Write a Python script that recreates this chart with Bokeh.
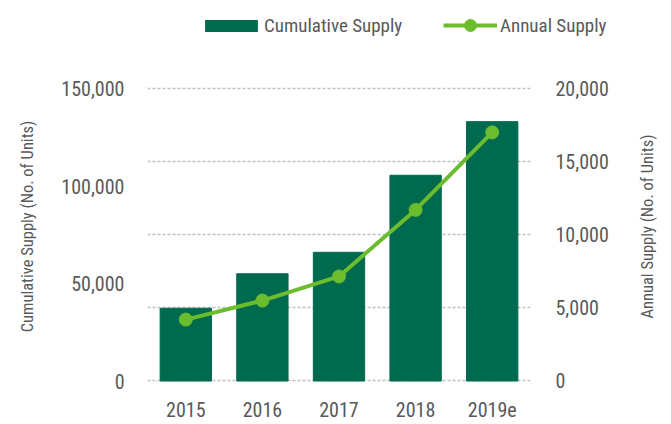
import math
from bokeh.plotting import figure
from bokeh.layouts import row
from bokeh.embed import file_html
from bokeh.resources import INLINE
from bokeh.models import (Range1d, LinearAxis, FixedTicker, NumeralTickFormatter,
                          Legend, LegendItem, FactorRange, Title, ColumnDataSource)

# ---- data ----
years = ["2015", "2016", "2017", "2018", "2019e"]
cumulative_supply = [37300, 55000, 66000, 105500, 133000]
annual_supply = [4200, 5500, 7150, 11700, 17000]
left_ticks = [0, 50000, 100000, 150000]
right_ticks = [0, 5000, 10000, 15000, 20000]

FONT = "Roboto Condensed"
TXT = "#595959"
BAR = "#006A4E"
LINE = "#6CBD2D"
W = 667
MAIN_W = 610

LINE_STYLE = dict(line_color=LINE, line_width=4)
PT_STYLE = dict(size=13, fill_color=LINE, line_color=LINE)

src = ColumnDataSource(data=dict(year=years, cumulative=cumulative_supply,
                                 annual=annual_supply))

# ---------- legend strip (separate root, on top) ----------
# the series are placed far outside this strip's view; only legend swatches show
top = figure(width=W, height=44, x_range=FactorRange(*years),
             y_range=Range1d(-2e6, -1e6), min_border=0,
             x_axis_location=None, y_axis_location=None,
             output_backend="svg", toolbar_location=None)
top.grid.visible = False
top.outline_line_color = None
tb = top.vbar(x="year", top="cumulative", source=src, width=0.001,
              fill_color=BAR, line_color=None)
tl = top.line(x="year", y="annual", source=src, **LINE_STYLE)
ts = top.scatter(x="year", y="annual", source=src, **PT_STYLE)

leg1 = Legend(items=[LegendItem(label="Cumulative Supply", renderers=[tb])],
              location=(198, 7), glyph_width=66, glyph_height=15,
              label_standoff=0, padding=0, margin=0, spacing=0,
              border_line_color=None, background_fill_alpha=0,
              label_text_font=FONT, label_text_font_size="19px",
              label_text_color=TXT)
leg2 = Legend(items=[LegendItem(label="Annual Supply", renderers=[tl, ts])],
              location=(443, 4), glyph_width=54, glyph_height=30,
              label_standoff=3, padding=0, margin=0, spacing=0,
              border_line_color=None, background_fill_alpha=0,
              label_text_font=FONT, label_text_font_size="19px",
              label_text_color=TXT)
top.add_layout(leg1, "center")
top.add_layout(leg2, "center")

# ---------- main chart ----------
p = figure(x_range=FactorRange(*years, range_padding=0),
           y_range=Range1d(-769.2, 159230.8),
           frame_width=383, frame_height=312,
           min_border_left=147, min_border_right=MAIN_W - 147 - 383,
           min_border_top=26, min_border_bottom=40,
           output_backend="svg", toolbar_location=None)
p.extra_y_ranges = {"annual": Range1d(-102.6, 21230.8)}
p.outline_line_color = None

p.vbar(x="year", top="cumulative", source=src, width=0.67,
       fill_color=BAR, line_color=BAR)
p.line(x="year", y="annual", source=src, y_range_name="annual", **LINE_STYLE)
p.scatter(x="year", y="annual", source=src, y_range_name="annual", **PT_STYLE)

for ax in [p.xaxis[0], p.yaxis[0]]:
    ax.axis_line_color = None
    ax.major_tick_line_color = None
    ax.minor_tick_line_color = None
    ax.major_tick_out = 0
    ax.major_label_text_font = FONT
    ax.major_label_text_color = TXT
    ax.axis_label_text_font = FONT
    ax.axis_label_text_color = TXT
    ax.axis_label_text_font_style = "normal"

p.xaxis.major_label_text_font_size = "20px"
p.xaxis.major_label_standoff = 19

p.yaxis[0].ticker = FixedTicker(ticks=left_ticks)
p.yaxis[0].formatter = NumeralTickFormatter(format="0,0")
p.yaxis[0].major_label_text_font_size = "20px"
p.yaxis[0].major_label_standoff = 23
p.yaxis[0].axis_label = "Cumulative Supply (No. of Units)"
p.yaxis[0].axis_label_text_font_size = "16.5px"
p.yaxis[0].axis_label_standoff = 21

ry = LinearAxis(y_range_name="annual", ticker=FixedTicker(ticks=right_ticks),
                formatter=NumeralTickFormatter(format="0,0"))
ry.axis_line_color = None
ry.major_tick_line_color = None
ry.minor_tick_line_color = None
ry.major_tick_out = 0
ry.major_label_text_font = FONT
ry.major_label_text_color = TXT
ry.major_label_text_font_size = "20px"
ry.major_label_standoff = 25
p.add_layout(ry, "right")

p.xgrid.visible = False
g = p.ygrid[0]
g.y_range_name = "annual"
g.ticker = FixedTicker(ticks=right_ticks)
g.grid_line_color = "#C0C0C0"
g.grid_line_width = 1.3
g.grid_line_dash = "3 2"

# ---------- right-hand title strip ----------
side = figure(width=W - MAIN_W, frame_height=312, frame_width=12,
              min_border_left=W - MAIN_W - 12, min_border_right=0,
              min_border_top=26, min_border_bottom=40,
              x_axis_location=None, y_axis_location=None,
              output_backend="svg", toolbar_location=None)
side.grid.visible = False
side.outline_line_color = None
side.add_layout(Title(text="Annual Supply (No. of Units)", align="center",
                      standoff=0, text_font=FONT, text_font_size="16.5px",
                      text_font_style="normal", text_color=TXT), "left")

main = row(p, side, spacing=0)
open("out.html", "w").write(file_html([top, main], INLINE))
